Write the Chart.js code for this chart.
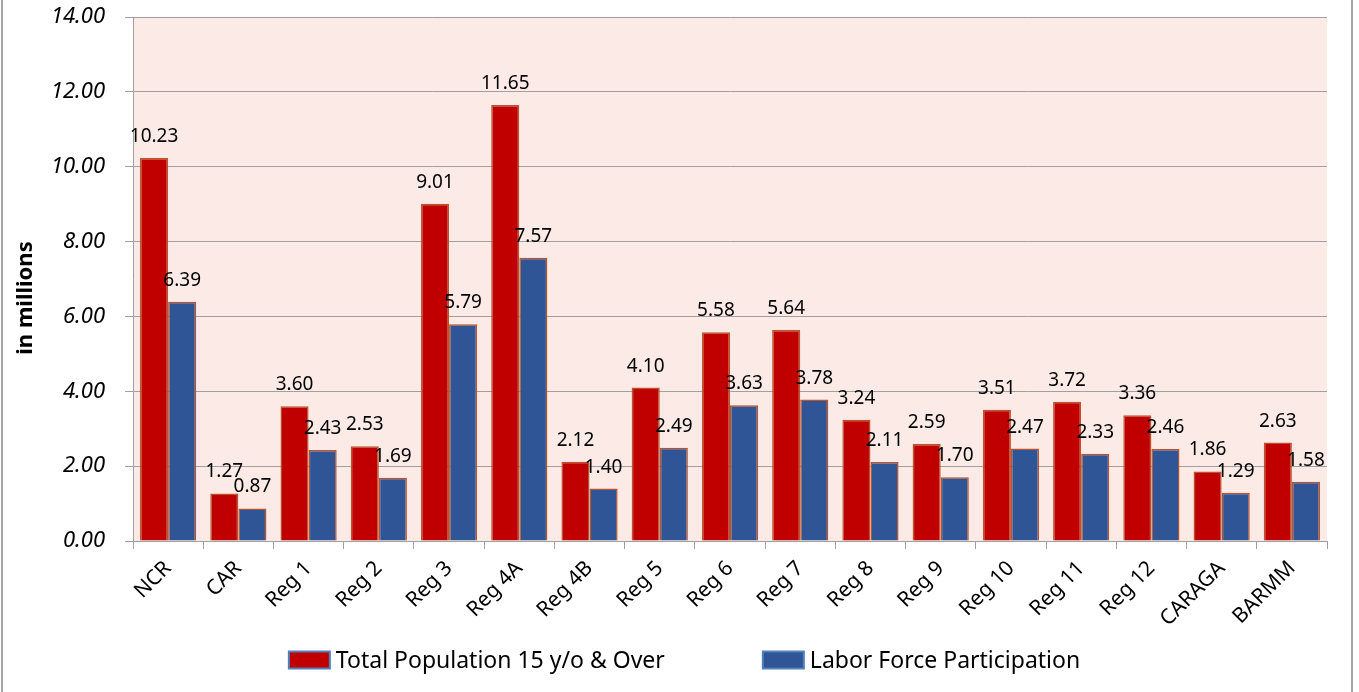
<!DOCTYPE html>
<html>
<head>
<meta charset="utf-8">
<script src="https://cdn.jsdelivr.net/npm/chart.js@4"></script>
<style>
  html, body { margin: 0; padding: 0; background: #fff; }
  #wrap { position: relative; width: 1359px; height: 692px; overflow: hidden; }
  #frame { position: absolute; left: 1px; top: -2px; width: 1352px; height: 700px; border: 1px solid #a6a6a6; border-width: 1px 2px; box-sizing: border-box; pointer-events: none; }
</style>
</head>
<body>
<div id="wrap">
  <canvas id="c" width="1359" height="692"></canvas>
  <div id="frame"></div>
</div>
<script>
// regions and values (in millions)
const regions = ['NCR', 'CAR', 'Reg 1', 'Reg 2', 'Reg 3', 'Reg 4A', 'Reg 4B', 'Reg 5', 'Reg 6', 'Reg 7', 'Reg 8', 'Reg 9', 'Reg 10', 'Reg 11', 'Reg 12', 'CARAGA', 'BARMM'];
const totalPop = [10.23, 1.27, 3.60, 2.53, 9.01, 11.65, 2.12, 4.10, 5.58, 5.64, 3.24, 2.59, 3.51, 3.72, 3.36, 1.86, 2.63];
const laborForce = [6.39, 0.87, 2.43, 1.69, 5.79, 7.57, 1.40, 2.49, 3.63, 3.78, 2.11, 1.70, 2.47, 2.33, 2.46, 1.29, 1.58];
const yTicks = [0, 2, 4, 6, 8, 10, 12, 14];
const seriesNames = ['Total Population 15 y/o & Over', 'Labor Force Participation'];
const yTitle = 'in millions';

const FONT = "'Noto Sans', 'DejaVu Sans', sans-serif";

const plotBg = {
  id: 'plotBg',
  beforeDraw(chart) {
    const { ctx, chartArea: a } = chart;
    ctx.save();
    ctx.fillStyle = '#fbeae6';
    ctx.fillRect(a.left, a.top, a.right - a.left, a.bottom - a.top);
    ctx.restore();
  }
};

const barValues = {
  id: 'barValues',
  afterDatasetsDraw(chart) {
    const ctx = chart.ctx;
    ctx.save();
    ctx.font = '19px ' + FONT;
    ctx.fillStyle = '#000';
    ctx.textAlign = 'center';
    ctx.textBaseline = 'alphabetic';
    chart.data.datasets.forEach((ds, i) => {
      chart.getDatasetMeta(i).data.forEach((bar, j) => {
        ctx.fillText(ds.data[j].toFixed(2), bar.x, bar.y - 16);
      });
    });
    ctx.restore();
  }
};

// y title sits a bit below the middle of the axis in the original
const sideTitle = {
  id: 'sideTitle',
  afterDraw(chart) {
    const { ctx, chartArea: a } = chart;
    ctx.save();
    ctx.translate(26, (a.top + a.bottom) / 2 + 19);
    ctx.rotate(-Math.PI / 2);
    ctx.font = 'bold 22px ' + FONT;
    ctx.fillStyle = '#000';
    ctx.textAlign = 'center';
    ctx.textBaseline = 'middle';
    ctx.fillText(yTitle, 0, 0);
    ctx.restore();
  }
};

// legend drawn by hand: the wide gap between the two entries
const bottomLegend = {
  id: 'bottomLegend',
  afterDraw(chart) {
    const ctx = chart.ctx;
    const boxW = 41, boxH = 17, gapText = 6, gapItem = 98;
    const y = chart.height - 32;
    ctx.save();
    ctx.font = '23px ' + FONT;
    const widths = chart.data.datasets.map(ds => ctx.measureText(ds.label).width);
    const total = widths.reduce((s, w) => s + boxW + gapText + w, 0) + gapItem * (widths.length - 1);
    let x = chart.width / 2 + 5 - total / 2;
    chart.data.datasets.forEach((ds, i) => {
      ctx.fillStyle = ds.backgroundColor;
      ctx.fillRect(x, y - boxH / 2, boxW, boxH);
      ctx.strokeStyle = '#4f81bd';
      ctx.lineWidth = 2;
      ctx.strokeRect(x, y - boxH / 2, boxW, boxH);
      ctx.fillStyle = '#000';
      ctx.textBaseline = 'middle';
      ctx.textAlign = 'left';
      ctx.fillText(ds.label, x + boxW + gapText, y + 1);
      x += boxW + gapText + widths[i] + gapItem;
    });
    ctx.restore();
  }
};

new Chart(document.getElementById('c').getContext('2d'), {
  type: 'bar',
  data: {
    labels: regions,
    datasets: [
      { label: seriesNames[0], data: totalPop, backgroundColor: '#c00000', borderColor: '#b9542c', borderWidth: 1.5 },
      { label: seriesNames[1], data: laborForce, backgroundColor: '#2f5597', borderColor: '#b9542c', borderWidth: 1.5 },
    ],
  },
  options: {
    responsive: false,
    animation: false,
    devicePixelRatio: 1,
    layout: { padding: { left: 0, right: 32, top: 17, bottom: 61 } },
    datasets: { bar: { categoryPercentage: 0.8, barPercentage: 1.0 } },
    plugins: {
      tooltip: { enabled: false },
      legend: { display: false },
    },
    scales: {
      x: {
        grid: { display: true, drawOnChartArea: false, color: '#a0a0a0', tickLength: 8, offset: true },
        border: { color: '#a0a0a0' },
        ticks: { color: '#000', font: { family: FONT, size: 21 }, autoSkip: false, maxRotation: 45, minRotation: 45, padding: 7 },
        afterFit(scale) { scale.height = 90; },
      },
      y: {
        min: 0,
        max: 14,
        afterBuildTicks(scale) { scale.ticks = yTicks.map(v => ({ value: v })); },
        grid: { color: '#a0a0a0', tickLength: 8 },
        border: { color: '#a0a0a0' },
        ticks: { color: '#000', font: { family: FONT, size: 22, style: 'italic' }, padding: 20, callback: v => v.toFixed(2) },
        afterFit(scale) {
          scale.width = 133;
          scale.paddingTop = 0;
          scale.paddingBottom = 0;
        },
      },
    },
  },
  plugins: [plotBg, barValues, sideTitle, bottomLegend],
});
</script>
</body>
</html>
